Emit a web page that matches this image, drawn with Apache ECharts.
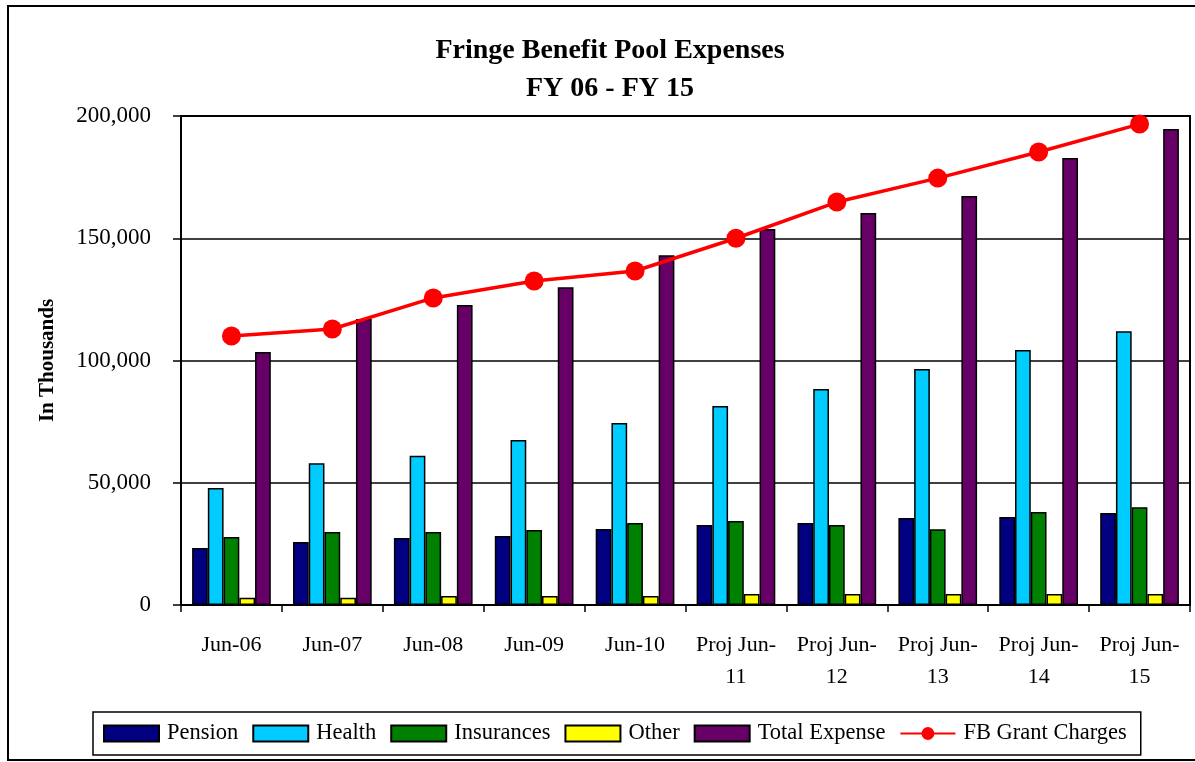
<!DOCTYPE html>
<html>
<head>
<meta charset="utf-8">
<script src="https://cdn.jsdelivr.net/npm/echarts@6/dist/echarts.min.js"></script>
<style>
html,body{margin:0;padding:0;background:#fff;}
#chart{width:1195px;height:762px;}
</style>
</head>
<body>
<div id="chart"></div>
<script>
const categories = ["Jun-06","Jun-07","Jun-08","Jun-09","Jun-10","Proj Jun-11","Proj Jun-12","Proj Jun-13","Proj Jun-14","Proj Jun-15"];
const pension    = [23300, 25800, 27400, 28200, 31100, 32700, 33500, 35600, 36000, 37600];
const health     = [47900, 58000, 61000, 67500, 74400, 81400, 88300, 96500, 104300, 112000];
const insurances = [27800, 29900, 29900, 30700, 33500, 34400, 32700, 31000, 38000, 40000];
const other      = [3000, 3000, 3700, 3700, 3700, 4500, 4500, 4500, 4500, 4500];
const totalExp   = [103500, 117000, 122700, 130000, 143000, 153800, 160300, 167300, 182800, 194700];
const fbGrant    = [110000, 112900, 125600, 132500, 136600, 150000, 164800, 174600, 185300, 196700];
const yTicks = [0, 50000, 100000, 150000, 200000];

const FONT = '"Liberation Serif", "DejaVu Serif", serif';
const chart = echarts.init(document.getElementById('chart'));

function barSeries(name, data, color) {
  return {
    name: name, type: 'bar', data: data,
    barGap: '0%', barCategoryGap: '22%',
    itemStyle: { color: color, borderColor: '#000', borderWidth: 1.5 },
    emphasis: { disabled: true }
  };
}

chart.setOption({
  animation: false,
  backgroundColor: '#fff',
  graphic: [
    { type: 'rect', z: -10, shape: { x: 8, y: 6, width: 1200, height: 754 },
      style: { fill: 'none', stroke: '#000', lineWidth: 2 } },
    { type: 'text', x: 610, y: 51, style: { text: 'Fringe Benefit Pool Expenses', font: 'bold 28px ' + FONT, fill: '#000', textAlign: 'center', textVerticalAlign: 'middle' } },
    { type: 'text', x: 610, y: 89, style: { text: 'FY 06 - FY 15', font: 'bold 28px ' + FONT, fill: '#000', textAlign: 'center', textVerticalAlign: 'middle' } }
  ],
  grid: { left: 181, right: 5, top: 116, bottom: 157, show: true, borderColor: '#000', borderWidth: 2, backgroundColor: 'transparent' },
  legend: {
    left: 93, top: 712,
    borderColor: '#000', borderWidth: 1.5,
    padding: [10, 14, 10, 10],
    itemGap: 14, itemWidth: 55, itemHeight: 16,
    textStyle: { fontFamily: FONT, fontSize: 22.5, color: '#000', padding: [0, 3, 0, 3] },
    data: [
      { name: 'Pension', icon: 'rect' },
      { name: 'Health', icon: 'rect' },
      { name: 'Insurances', icon: 'rect' },
      { name: 'Other', icon: 'rect' },
      { name: 'Total Expense', icon: 'rect' },
      { name: 'FB Grant Charges' }
    ]
  },
  xAxis: {
    type: 'category', data: categories, boundaryGap: true,
    axisLine: { lineStyle: { color: '#000', width: 2 } },
    axisTick: { show: true, length: 7, lineStyle: { color: '#000', width: 1.5 } },
    axisLabel: {
      fontFamily: FONT, fontSize: 22, color: '#000', margin: 24, lineHeight: 32, interval: 0,
      formatter: v => v.replace('Proj Jun-', 'Proj Jun-\n')
    }
  },
  yAxis: {
    type: 'value', min: yTicks[0], max: yTicks[yTicks.length - 1], interval: yTicks[1] - yTicks[0],
    name: 'In Thousands', nameLocation: 'middle', nameGap: 123, nameRotate: 90,
    nameTextStyle: { fontFamily: FONT, fontSize: 21, fontWeight: 'bold', color: '#000' },
    axisLine: { show: true, lineStyle: { color: '#000', width: 2 } },
    axisTick: { show: true, length: 8, lineStyle: { color: '#000', width: 1.5 } },
    splitLine: { show: true, lineStyle: { color: '#000', width: 1.5 } },
    axisLabel: {
      fontFamily: FONT, fontSize: 23, color: '#000', margin: 30,
      formatter: v => v.toLocaleString('en-US')
    }
  },
  series: [
    barSeries('Pension', pension, '#000080'),
    barSeries('Health', health, '#00CCFF'),
    barSeries('Insurances', insurances, '#008000'),
    barSeries('Other', other, '#FFFF00'),
    barSeries('Total Expense', totalExp, '#660066'),
    {
      name: 'FB Grant Charges', type: 'line', data: fbGrant, z: 5,
      symbol: 'circle', symbolSize: 19,
      itemStyle: { color: '#FF0000' },
      lineStyle: { color: '#FF0000', width: 3.5 },
      emphasis: { disabled: true }
    }
  ]
});
</script>
</body>
</html>
